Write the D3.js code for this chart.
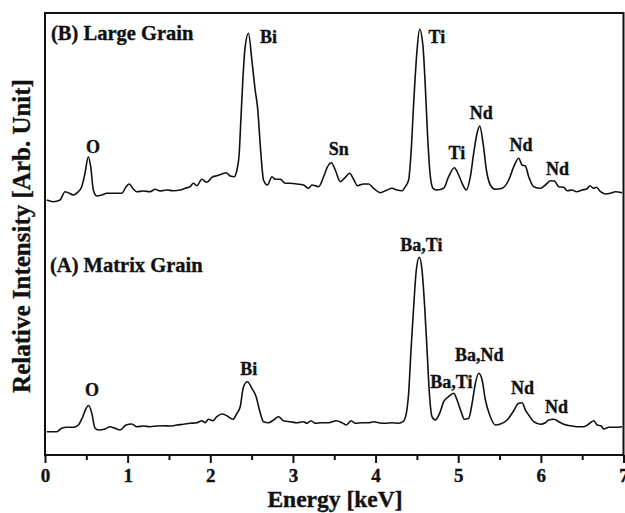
<!DOCTYPE html>
<html>
<head>
<meta charset="utf-8">
<script src="https://cdn.jsdelivr.net/npm/d3@7/dist/d3.min.js"></script>
<style>
  html, body { margin: 0; padding: 0; background: #fff; }
  svg { display: block; }
  text { font-family: "Liberation Serif", "Times New Roman", serif; font-weight: bold; fill: #111; stroke: #111; stroke-width: 0.35px; }
</style>
</head>
<body>
<svg id="chart" width="625" height="513"></svg>
<script>
// ---- Data (energy in keV, intensity in arbitrary units) ----
const energyTicks = [0, 1, 2, 3, 4, 5, 6, 7];
const minorTicks = [0.5, 1.5, 2.5, 3.5, 4.5, 5.5, 6.5];

// (B) Large grain spectrum
const spectrumB = [
  [0.021,255],[0.101,253.3],[0.182,255],[0.242,263.3],[0.282,262.3],[0.343,260],[0.391,262.3],
  [0.444,268.3],[0.484,281.7],[0.524,298.3],[0.553,288.3],[0.585,265],[0.626,259],[0.687,260],
  [0.747,261.7],[0.827,261.7],[0.929,261.7],[0.981,268.3],[1.021,271],[1.062,266.7],[1.111,263.3],
  [1.191,264],[1.272,263.3],[1.332,265.7],[1.393,264],[1.474,265],[1.554,264.3],[1.635,265],
  [1.696,266.7],[1.756,268.3],[1.796,271.7],[1.837,269.3],[1.898,275.7],[1.958,272.7],[2.019,277.7],
  [2.079,279.3],[2.140,281],[2.192,282.3],[2.241,279],[2.289,278.3],[2.322,285],[2.350,301.7],
  [2.370,335],[2.394,375],[2.422,408.3],[2.462,421.7],[2.503,395],[2.543,365],[2.571,348.3],
  [2.612,301.7],[2.644,275],[2.692,270],[2.746,278.3],[2.786,275.7],[2.846,275.7],[2.907,271.7],
  [2.967,271.7],[3.048,271],[3.128,270],[3.189,266.7],[3.230,270],[3.310,268.3],[3.371,278.3],
  [3.419,288.3],[3.464,292.3],[3.512,285],[3.573,273.3],[3.633,277.7],[3.685,281.7],[3.734,275.7],
  [3.782,269.3],[3.855,271],[3.916,271],[3.976,266.7],[4.057,262.3],[4.138,265],[4.199,266.7],
  [4.259,265],[4.320,264.3],[4.360,268.3],[4.400,275],[4.429,301.7],[4.461,351.7],[4.502,405],
  [4.533,425.7],[4.574,408.3],[4.602,368.3],[4.630,318.3],[4.663,278.3],[4.695,266.7],[4.744,265],
  [4.824,266.7],[4.884,278.3],[4.953,287.3],[5.005,280],[5.047,271.7],[5.099,265],[5.147,278.3],
  [5.187,301.7],[5.228,321.7],[5.260,329],[5.301,311.7],[5.341,285],[5.389,270],[5.450,265.7],
  [5.531,266.7],[5.611,275],[5.672,288.3],[5.732,296.7],[5.773,290],[5.813,289],[5.853,278.3],
  [5.914,268.3],[5.995,266.7],[6.055,270],[6.116,274.3],[6.164,274],[6.217,268.3],[6.277,267.7],
  [6.318,264.3],[6.379,265],[6.431,263.3],[6.500,265],[6.560,266.3],[6.592,269.3],[6.640,266.7],
  [6.673,267.7],[6.722,263.3],[6.782,261],[6.843,261.7],[6.903,263.3],[6.984,262.3]
];

// (A) Matrix grain spectrum
const spectrumA = [
  [0.021,23.3],[0.142,23.3],[0.202,26.7],[0.263,27.7],[0.343,27.7],[0.403,30],[0.457,38.3],
  [0.497,46.7],[0.529,49.5],[0.566,41.7],[0.606,26.7],[0.646,25],[0.727,26],[0.787,28.3],
  [0.848,26.7],[0.908,25],[0.981,30],[1.050,31],[1.111,28.3],[1.191,29],[1.272,28.3],[1.353,29],
  [1.433,29.3],[1.514,29],[1.595,30],[1.675,30.7],[1.756,31.7],[1.837,32.3],[1.898,34.3],
  [1.938,32.3],[1.978,35.7],[2.031,34.3],[2.079,38.3],[2.140,41],[2.201,39.3],[2.273,35.7],
  [2.322,41.7],[2.362,48.3],[2.402,68.3],[2.450,73.3],[2.503,66.7],[2.555,58.3],[2.595,45],
  [2.644,33.3],[2.704,32.3],[2.765,35],[2.825,38.3],[2.886,34.3],[2.967,33.3],[3.048,32.3],
  [3.128,33.3],[3.169,31.7],[3.218,34.3],[3.270,31.7],[3.351,32.3],[3.431,32.3],[3.524,34.3],
  [3.593,32.3],[3.645,30],[3.706,34.3],[3.754,31.7],[3.836,32.3],[3.916,32.3],[3.976,33.3],
  [4.037,32.3],[4.118,31.7],[4.199,32.3],[4.279,31.7],[4.332,33.3],[4.372,41.7],[4.400,61.7],
  [4.429,105],[4.461,148.3],[4.493,185],[4.529,197.7],[4.562,185],[4.594,148.3],[4.623,105],
  [4.651,61.7],[4.683,38.3],[4.723,35],[4.775,41.7],[4.824,53.3],[4.884,58.3],[4.945,61.7],
  [4.986,55],[5.035,43.3],[5.074,35.7],[5.127,36.7],[5.168,51.7],[5.208,71.7],[5.248,81.7],
  [5.289,75],[5.329,55],[5.381,40],[5.450,30],[5.510,31],[5.592,35],[5.664,43.3],[5.732,51.7],
  [5.773,52.3],[5.813,45],[5.853,40],[5.914,33.3],[5.995,30.7],[6.055,32.3],[6.095,35],
  [6.156,35.7],[6.217,33.3],[6.277,30.7],[6.358,29.3],[6.439,28.3],[6.519,28.3],[6.592,31.7],
  [6.640,34.3],[6.682,30],[6.730,29],[6.762,26],[6.822,27.7],[6.903,27.7],[6.984,28.3]
];

// Peak annotations: [label, energy, intensity]
const peaksB = [["O",0.581,302],["Bi",2.706,412],["Sn",3.555,300],["Ti",4.741,412],
  ["Ti",4.984,296],["Nd",5.280,336],["Nd",5.759,304],["Nd",6.201,280]];
const peaksA = [["O",0.569,59],["Bi",2.465,80],["Ba,Ti",4.554,204],["Ba,Ti",4.917,67],
  ["Ba,Nd",5.256,94],["Nd",5.777,61],["Nd",6.189,42]];
// Panel titles: [label, energy, intensity]
const panelTitles = [["(B) Large Grain",0.073,415],["(A) Matrix Grain",0.061,183]];

const xLabel = "Energy [keV]";
const yLabel = "Relative Intensity [Arb. Unit]";

// ---- Layout ----
const svg = d3.select("#chart");
const mLeft = 45, mRight = 623.5, mTop = 13, mBottom = 455;
const x = d3.scaleLinear().domain([0, 7]).range([mLeft, mRight]);
const y = d3.scaleLinear().domain([0, 442]).range([mBottom, mTop]);

// Traces
const line = d3.line().x(d => x(d[0])).y(d => y(d[1])).curve(d3.curveMonotoneX);
[spectrumB, spectrumA].forEach(s => {
  svg.append("path").datum(s).attr("d", line)
    .attr("fill", "none").attr("stroke", "#111").attr("stroke-width", 1.6)
    .attr("stroke-linejoin", "round");
});

// Frame
svg.append("rect").attr("x", mLeft).attr("y", mTop)
  .attr("width", mRight - mLeft).attr("height", mBottom - mTop)
  .attr("fill", "none").attr("stroke", "#111").attr("stroke-width", 2);

// X axis
const xAxis = d3.axisBottom(x).tickValues(energyTicks).tickSize(8).tickPadding(6)
  .tickFormat(d3.format("d"));
const gx = svg.append("g").attr("transform", `translate(0,${mBottom})`).call(xAxis);
gx.select(".domain").remove();
gx.selectAll(".tick line").attr("stroke", "#111").attr("stroke-width", 2);
gx.selectAll(".tick text").style("font-size", "19px").attr("fill", "#111")
  .style("font-family", '"Liberation Serif", serif').style("font-weight", "bold");
const gxm = svg.append("g").attr("transform", `translate(0,${mBottom})`)
  .call(d3.axisBottom(x).tickValues(minorTicks).tickSize(5).tickFormat(""));
gxm.select(".domain").remove();
gxm.selectAll(".tick line").attr("stroke", "#111").attr("stroke-width", 2);

// Axis titles
svg.append("text").attr("x", 335).attr("y", 507)
  .attr("text-anchor", "middle").style("font-size", "23.5px").text(xLabel);
svg.append("text").attr("transform", `translate(30,${236}) rotate(-90)`)
  .attr("text-anchor", "middle").style("font-size", "25px").text(yLabel);

// Peak labels
[...peaksB, ...peaksA].forEach(p => {
  svg.append("text").attr("x", x(p[1])).attr("y", y(p[2]))
    .attr("text-anchor", "middle").style("font-size", "18px").text(p[0]);
});
panelTitles.forEach(p => {
  svg.append("text").attr("x", x(p[1])).attr("y", y(p[2]))
    .attr("text-anchor", "start").style("font-size", "20.5px").text(p[0]);
});
</script>
</body>
</html>
